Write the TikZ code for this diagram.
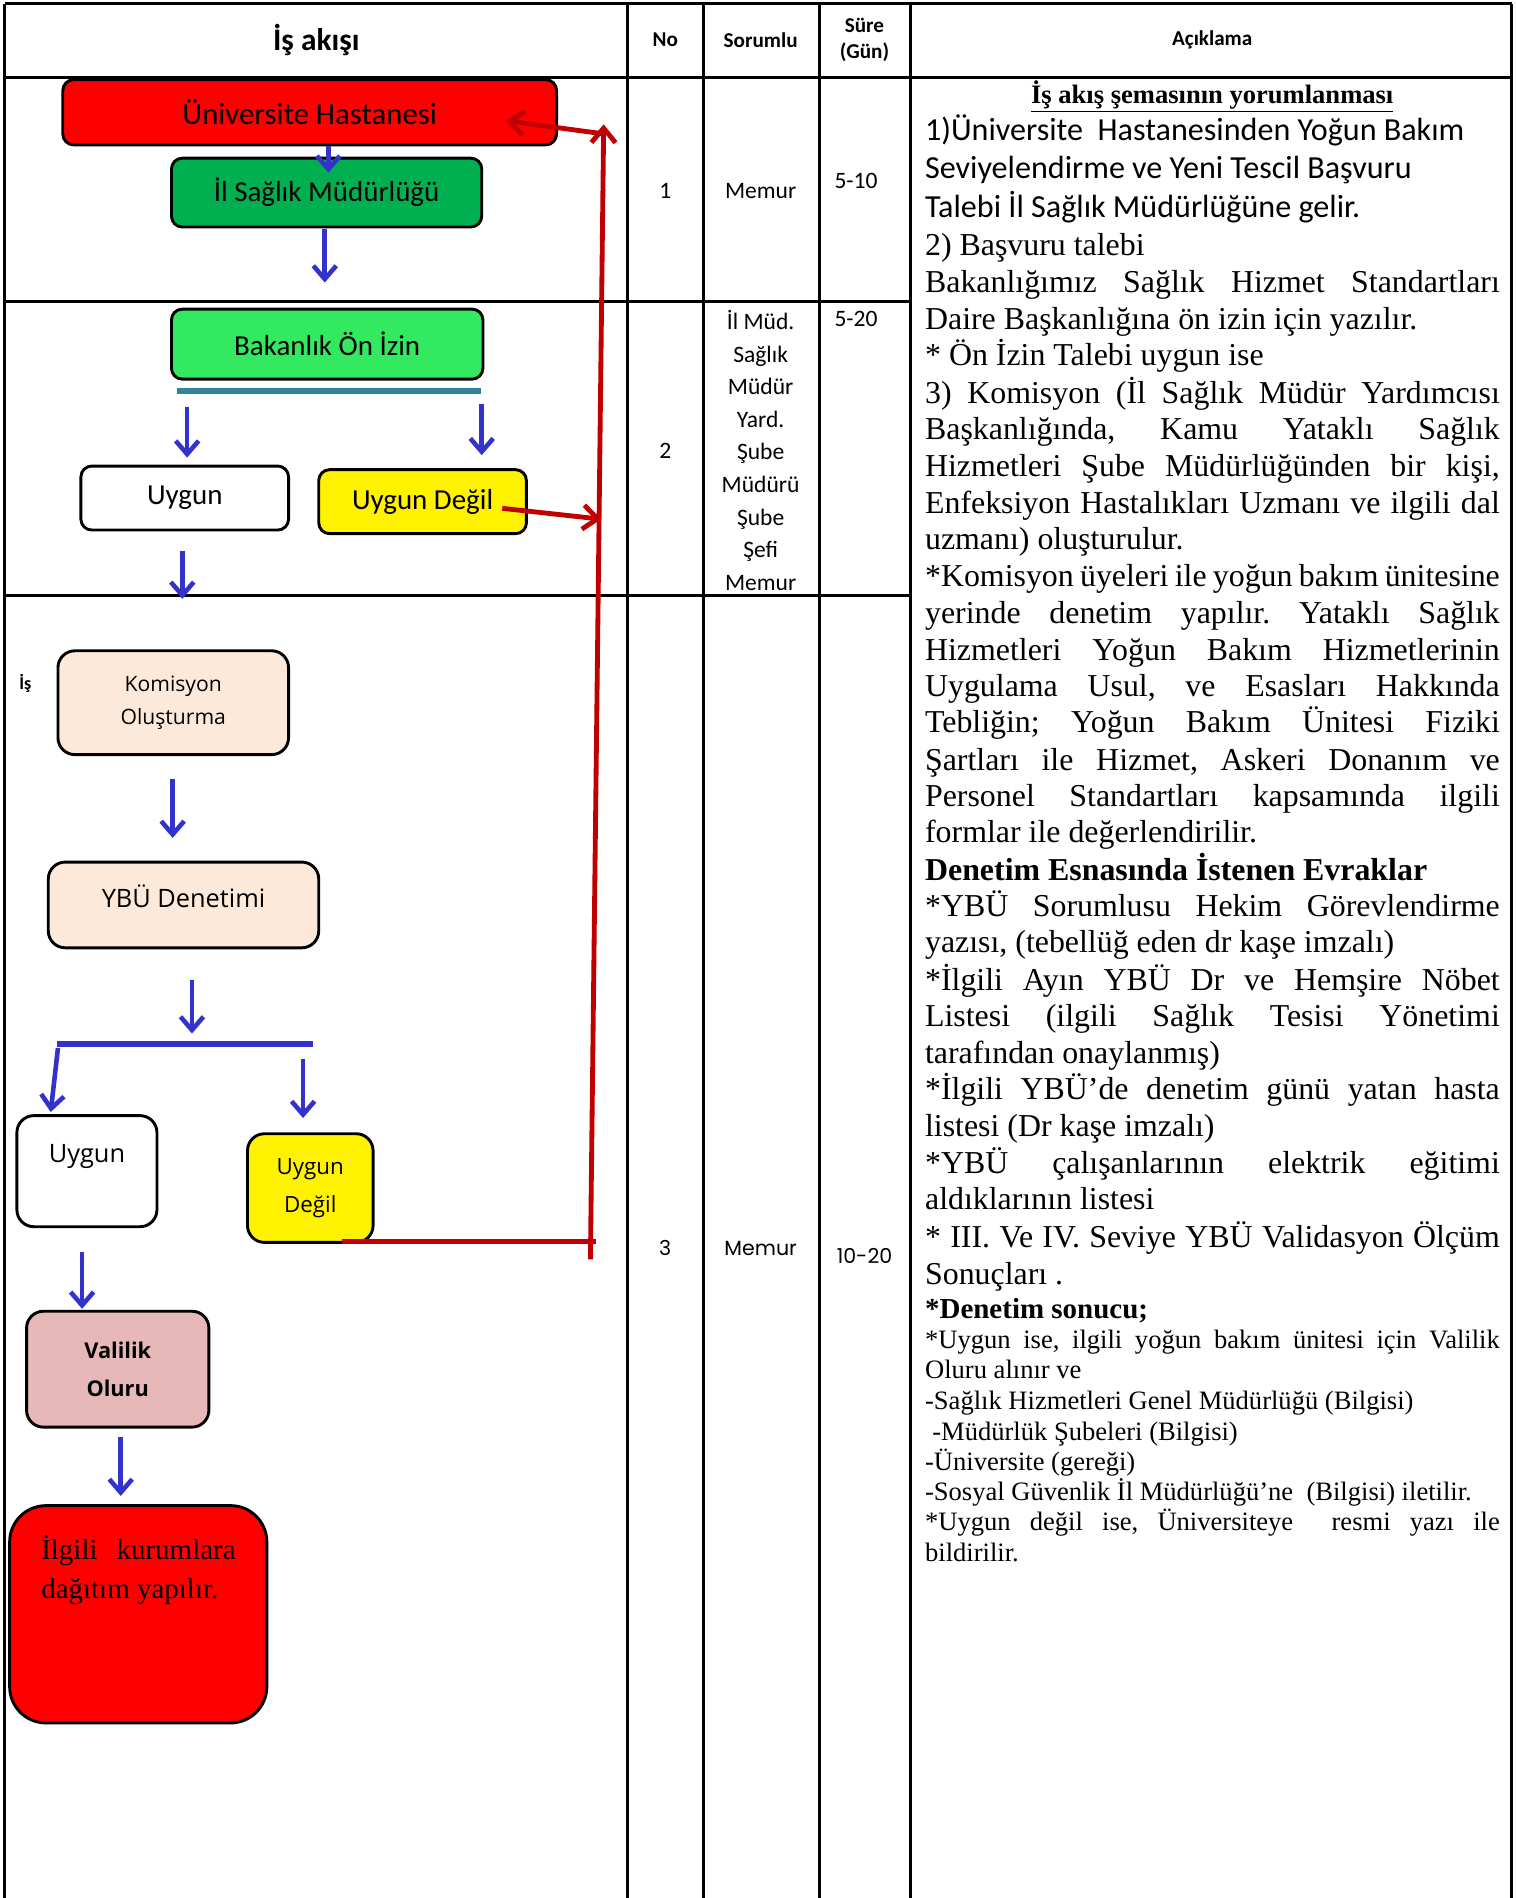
\documentclass[tikz,border=0pt]{standalone}
\usepackage{fontspec}
\setmainfont{Liberation Serif}
\newfontfamily\calib{Carlito}
\newfontfamily\osans{Open Sans}
\newfontfamily\popp{Poppins}
\usetikzlibrary{arrows.meta}
\definecolor{abl}{RGB}{51,51,204}
\definecolor{rdk}{RGB}{192,0,0}
\definecolor{tealb}{RGB}{49,133,155}
\definecolor{grnA}{RGB}{0,176,80}
\definecolor{grnB}{RGB}{50,233,96}
\definecolor{peach}{RGB}{253,233,217}
\definecolor{pinkb}{RGB}{230,185,184}
\newcommand\J[1]{\makebox[476pt][s]{#1}}
\newcommand\fsz[2]{\fontsize{#1}{#2}\selectfont}
\frenchspacing
\begin{document}
\begin{tikzpicture}[x=1pt,y=-1pt,
  tbl/.style={line width=2.4pt,black},
  box/.style={draw=black,line width=2.4pt,rounded corners=9pt,inner sep=0pt,align=center},
  barr/.style={draw=abl,line width=3.8pt,-{Straight Barb[length=11pt,width=19pt]}},
  rarr/.style={draw=rdk,line width=4pt,-{Straight Barb[length=12pt,width=20pt]}},
  rline/.style={draw=rdk,line width=4pt},
  hd/.style={font=\calib\bfseries\fsz{17.5}{21},align=center,inner sep=0pt},
  cel/.style={font=\calib\fsz{19.5}{27},align=center,inner sep=0pt},
  tl/.style={anchor=base west,inner sep=0pt,font=\fsz{26.4}{30}},
  cl/.style={anchor=base west,inner sep=0pt,font=\calib\fsz{26.6}{32}},
  sl/.style={anchor=base west,inner sep=0pt,font=\fsz{22}{25}}]
\useasboundingbox (0,0) rectangle (1255,1572);
% ---------- table ----------
\draw[tbl] (4,3) -- (1252,3);
\draw[tbl] (4,64) -- (1252,64);
\draw[tbl] (4,250) -- (754,250);
\draw[tbl] (4,493) -- (754,493);
\foreach \x in {4,520,583,679,754,1252} \draw[tbl] (\x,3) -- (\x,1572);
% headers
\node[hd,font=\calib\bfseries\fsz{26}{30}] (h1) at (262,33) {İş akışı};
\node[hd] (h2) at (551,33) {No};
\node[hd] (h3) at (630,33) {Sorumlu};
\node[hd] (h4) at (716,33) {Süre\\(Gün)};
\node[hd] (h5) at (1004,33) {Açıklama};
% cells
\node[cel] (n1) at (551,158) {1};
\node[cel] (s1) at (630,158) {Memur};
\node[cel] (g1) at (709,150) {5-10};
\node[cel] (n2) at (551,373) {2};
\node[cel] (s2) at (630,373) {İl Müd.\\Sağlık\\Müdür\\Yard.\\Şube\\Müdürü\\Şube\\Şefi\\Memur};
\node[cel] (g2) at (709,264) {5-20};
\node[cel,font=\popp\fsz{17}{20}] (n3) at (551,1034) {3};
\node[cel,font=\popp\fsz{17}{20}] (s3) at (630,1034) {Memur};
\node[cel,font=\popp\fsz{17}{20}] (g3) at (716,1040) {10-20};
% ---------- flow boxes ----------
\node[box,fill=red,minimum width=409pt,minimum height=54pt,font=\calib\fsz{25.5}{30}] (uni) at (256.5,93) {Üniversite Hastanesi};
\node[box,fill=grnA,minimum width=257pt,minimum height=57pt,font=\calib\fsz{24}{28}] (ism) at (270.5,159.5) {İl Sağlık Müdürlüğü};
\node[box,fill=grnB,minimum width=258pt,minimum height=58pt,font=\calib\fsz{24}{28}] (bak) at (271,285) {Bakanlık Ön İzin};
\node[box,fill=white,minimum width=172pt,minimum height=53pt,font=\calib\fsz{24}{28}] (uy1) at (153,412.5) {Uygun};
\node[box,fill=yellow,minimum width=172pt,minimum height=53pt,font=\calib\fsz{24}{28}] (ud1) at (350,415.5) {Uygun Değil};
\node[inner sep=0pt,font=\calib\bfseries\fsz{15}{18}] (isl) at (21,566) {İş};
\node[box,fill=peach,rounded corners=14pt,minimum width=191pt,minimum height=86pt,font=\osans\fsz{17.5}{28}] (kom) at (143.5,582) {Komisyon\\Oluşturma};
\node[box,fill=peach,rounded corners=14pt,minimum width=224pt,minimum height=71pt] (ybu) at (152,749.5) {};
\node[inner sep=0pt,font=\osans\fsz{21}{24}] (ybuT) at (152,742) {YBÜ Denetimi};
\node[box,fill=white,rounded corners=14pt,minimum width=116pt,minimum height=92pt] (uy2) at (72,970) {};
\node[inner sep=0pt,font=\osans\fsz{21}{24}] (uy2T) at (72,958) {Uygun};
\node[box,fill=yellow,rounded corners=14pt,minimum width=104pt,minimum height=90pt,font=\osans\fsz{18.5}{32}] (ud2) at (257,984) {Uygun\\Değil};
\node[box,fill=pinkb,rounded corners=14pt,minimum width=151pt,minimum height=96pt,font=\osans\bfseries\fsz{18}{32}] (val) at (97.5,1134) {Valilik\\Oluru};
\node[box,fill=red,rounded corners=30pt,minimum width=213pt,minimum height=180pt] (dag) at (114.5,1337) {};
\node[anchor=base west,inner sep=0pt,font=\fsz{24}{28}] (dagT1) at (34,1292) {\makebox[161pt][s]{İlgili kurumlara}};
\node[anchor=base west,inner sep=0pt,font=\fsz{24}{28}] (dagT2) at (34,1324) {dağıtım yapılır.};
% ---------- blue arrows ----------
\coordinate (a1s) at (272,121); \coordinate (a1e) at (272,143);
\coordinate (a2s) at (269,190); \coordinate (a2e) at (269,234);
\coordinate (a3s) at (155,337); \coordinate (a3e) at (155,379);
\coordinate (a4s) at (399,335); \coordinate (a4e) at (399,377);
\coordinate (a5s) at (151,456); \coordinate (a5e) at (151,496);
\coordinate (a6s) at (143,645); \coordinate (a6e) at (143,694);
\coordinate (a7s) at (159,812); \coordinate (a7e) at (159,856);
\coordinate (a8s) at (48,868); \coordinate (a8e) at (42,921);
\coordinate (a9s) at (251,877); \coordinate (a9e) at (251,926);
\coordinate (a10s) at (68,1037); \coordinate (a10e) at (68,1084);
\coordinate (a11s) at (100,1190); \coordinate (a11e) at (100,1239);
\foreach \i in {1,...,11} \draw[barr] (a\i s) -- (a\i e);
\coordinate (tb1) at (147,324); \coordinate (tb2) at (398,324);
\draw[draw=tealb,line width=5pt] (tb1) -- (tb2);
\coordinate (bb1) at (47,865); \coordinate (bb2) at (259,865);
\draw[draw=abl,line width=5pt] (bb1) -- (bb2);
% ---------- red connectors ----------
\coordinate (rb) at (489,1043);
\coordinate (rt) at (500,103);
\coordinate (rj) at (501,111);
\coordinate (ru) at (419,100);
\coordinate (rh1) at (283,1028);
\coordinate (rh2) at (494,1028);
\coordinate (rm1) at (416,421);
\coordinate (rm2) at (498,430);
\draw[rline] (rh1) -- (rh2);
\draw[rarr] (rb) -- (rt);
\draw[rarr] (rj) -- (ru);
\draw[rarr] (rm1) -- (rm2);
% ---------- Aciklama text ----------
\node[anchor=base,inner sep=0pt,font=\bfseries\fsz{22}{25}] (ttl) at (1004,86) {\underline{İş akış şemasının yorumlanması}};
\node[cl] (c1) at (766,116) {1)Üniversite\ \ Hastanesinden Yoğun Bakım};
\node[cl] (c2) at (766,148) {Seviyelendirme ve Yeni Tescil Başvuru};
\node[cl] (c3) at (766,180) {Talebi İl Sağlık Müdürlüğüne gelir.};
\node[tl] (t1) at (766,212) {2) Başvuru talebi};
\node[tl] (t2) at (766,242) {\J{Bakanlığımız Sağlık Hizmet Standartları}};
\node[tl] (t3) at (766,273) {Daire Başkanlığına ön izin için yazılır.};
\node[tl] (t4) at (766,303) {* Ön İzin Talebi uygun ise};
\node[tl] (t5) at (766,334) {\J{3) Komisyon (İl Sağlık Müdür Yardımcısı}};
\node[tl] (t6) at (766,364) {\J{Başkanlığında, Kamu Yataklı Sağlık}};
\node[tl] (t7) at (766,395) {\J{Hizmetleri Şube Müdürlüğünden bir kişi,}};
\node[tl] (t8) at (766,425) {\J{Enfeksiyon Hastalıkları Uzmanı ve ilgili dal}};
\node[tl] (t9) at (766,455) {uzmanı) oluşturulur.};
\node[tl] (t10) at (766,486) {\J{*Komisyon üyeleri ile yoğun bakım ünitesine}};
\node[tl] (t11) at (766,516) {\J{yerinde denetim yapılır. Yataklı Sağlık}};
\node[tl] (t12) at (766,547) {\J{Hizmetleri Yoğun Bakım Hizmetlerinin}};
\node[tl] (t13) at (766,577) {\J{Uygulama Usul, ve Esasları Hakkında}};
\node[tl] (t14) at (766,607) {\J{Tebliğin; Yoğun Bakım Ünitesi Fiziki}};
\node[tl] (t15) at (766,638) {\J{Şartları ile Hizmet, Askeri Donanım ve}};
\node[tl] (t16) at (766,668) {\J{Personel Standartları kapsamında ilgili}};
\node[tl] (t17) at (766,698) {formlar ile değerlendirilir.};
\node[tl,font=\bfseries\fsz{26.4}{30}] (t18) at (766,729) {Denetim Esnasında İstenen Evraklar};
\node[tl] (t19) at (766,759) {\J{*YBÜ Sorumlusu Hekim Görevlendirme}};
\node[tl] (t20) at (766,789) {yazısı, (tebellüğ eden dr kaşe imzalı)};
\node[tl] (t21) at (766,820) {\J{*İlgili Ayın YBÜ Dr ve Hemşire Nöbet}};
\node[tl] (t22) at (766,850) {\J{Listesi (ilgili Sağlık Tesisi Yönetimi}};
\node[tl] (t23) at (766,881) {tarafından onaylanmış)};
\node[tl] (t24) at (766,911) {\J{*İlgili YBÜ’de denetim günü yatan hasta}};
\node[tl] (t25) at (766,941) {listesi (Dr kaşe imzalı)};
\node[tl] (t26) at (766,972) {\J{*YBÜ çalışanlarının elektrik eğitimi}};
\node[tl] (t27) at (766,1002) {aldıklarının listesi};
\node[tl] (t28) at (766,1033) {\J{* III. Ve IV. Seviye YBÜ Validasyon Ölçüm}};
\node[tl] (t29) at (766,1064) {Sonuçları .};
\node[tl,font=\bfseries\fsz{24}{28}] (t30) at (766,1092) {*Denetim sonucu;};
\node[sl] (u1) at (766,1117) {\makebox[476pt][s]{*Uygun ise, ilgili yoğun bakım ünitesi için Valilik}};
\node[sl] (u2) at (766,1142) {Oluru alınır ve};
\node[sl] (u3) at (766,1167) {-Sağlık Hizmetleri Genel Müdürlüğü (Bilgisi)};
\node[sl] (u4) at (772,1193) {-Müdürlük Şubeleri (Bilgisi)};
\node[sl] (u5) at (766,1218) {-Üniversite (gereği)};
\node[sl] (u6) at (766,1243) {-Sosyal Güvenlik İl Müdürlüğü’ne\ \ (Bilgisi) iletilir.};
\node[sl] (u7) at (766,1268) {\makebox[476pt][s]{*Uygun değil ise, Üniversiteye\ \ resmi yazı ile}};
\node[sl] (u8) at (766,1293) {bildirilir.};
\end{tikzpicture}
\end{document}
